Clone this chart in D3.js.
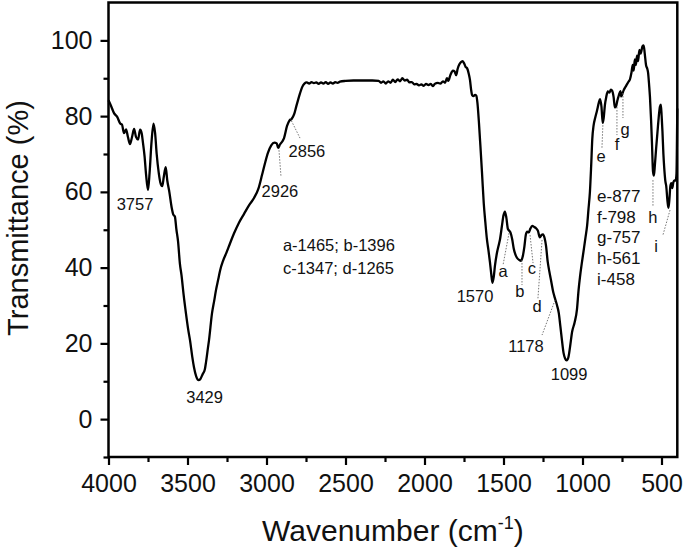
<!DOCTYPE html>
<html><head><meta charset="utf-8">
<script src="https://cdn.jsdelivr.net/npm/d3@7/dist/d3.min.js"></script>
<style>
body{margin:0;background:#fff;}
svg text{font-family:"Liberation Sans",Arial,sans-serif;fill:#111;}
</style></head>
<body><svg id="chart" width="685" height="549"></svg>
<script>
// Spectrum: wavenumber (cm-1) and transmittance (%)
const wavenumber = [4000,3985,3965,3945,3925,3915,3902,3889,3877,3864,3851,3838,3826,3813,3800,3790,3782,3772,3762,3750,3740,3728,3715,3705,3695,3682,3672,3660,3650,3638,3628,3615,3600,3590,3580,3570,3560,3548,3538,3525,3510,3495,3484,3470,3459,3445,3430,3420,3405,3390,3383,3370,3364,3345,3330,3320,3305,3294,3275,3256,3230,3206,3175,3142,3110,3079,3050,3028,3010,2991,2970,2950,2935,2926,2915,2900,2889,2870,2855,2840,2825,2812,2800,2788,2775,2760,2745,2730,2715,2700,2685,2670,2655,2640,2625,2610,2595,2580,2565,2550,2535,2500,2450,2400,2330,2290,2275,2260,2245,2230,2215,2200,2185,2170,2155,2140,2125,2110,2095,2080,2065,2050,2035,2020,2005,1990,1975,1960,1946,1935,1915,1900,1883,1870,1858,1850,1835,1820,1810,1800,1790,1780,1770,1760,1750,1740,1730,1720,1712,1705,1698,1690,1680,1672,1665,1655,1646,1636,1625,1615,1605,1595,1586,1578,1570,1562,1554,1541,1530,1522,1510,1500,1491,1482,1472,1465,1455,1445,1435,1425,1415,1400,1389,1378,1368,1358,1350,1340,1330,1318,1305,1294,1282,1270,1260,1250,1240,1231,1220,1210,1199,1185,1175,1161,1150,1140,1130,1120,1110,1100,1090,1079,1066,1050,1035,1025,1016,1005,991,981,971,962,953,945,938,930,920,908,897,889,880,872,866,858,850,840,830,820,812,803,795,788,780,770,760,755,750,740,724,710,699,690,682,676,669,662,655,648,640,632,620,613,606,598,590,585,578,573,566,560,554,548,542,534,526,518,510,504,499,494,488,483,476,470,462,456,450,444,438,432,425,418,410,405,402,400];
const transmittance = [84.2,82.8,80.8,79.8,78.0,77.8,75.5,76.5,74.5,72.6,74.5,76.6,74.5,73.8,76.4,75.5,73.0,69.5,64.5,60.5,65,73,78.0,75.5,70,65,62.5,61.5,64,66.5,63,60,55.8,54.0,53.5,50,47,41,38,33,28,23.5,20.8,16.5,13.7,11.3,10.3,10.5,11.8,13.2,15,19,20.8,27.9,31.5,34,37,39.2,41.8,43.7,46.5,49,51.8,54.2,56.5,58.4,61,64.5,67.5,70.3,72.3,73,72.8,71.6,72.5,73.3,74.2,77.4,78.8,79.3,80.5,82.5,84.3,86,87.6,88.6,88.9,88.6,89.0,88.7,88.9,88.5,88.9,88.6,89.0,88.5,88.9,88.6,89.0,88.8,89.1,89.3,89.4,89.4,89.4,89.3,88.8,89.2,88.6,89.2,88.8,89.6,89.0,89.7,89.2,90.0,89.4,89.6,88.9,89.0,88.4,88.5,88.1,88.4,88.0,88.5,88.2,88.5,87.9,88.5,88.8,88.6,89.2,88.8,90.0,89.3,91.0,92.0,91.8,90.8,92.5,93.6,94.2,94.5,94,93.0,92.6,91.2,89.5,87,85.5,85.3,85.6,85.4,83.5,78,72,65,57,52,47.5,44.5,41.5,38.5,36.0,37.5,40.5,44,46,47.5,51,53.8,54.8,53.2,50.2,49.8,49.2,47.5,45,43.5,42.6,42.0,41.8,43,45.5,48.8,49.5,49.3,50.3,51,50.7,50.4,49.7,48,48.6,48.8,47.8,45.8,41.5,39,36.6,33.5,32,30,28,24.5,20.8,17.5,16,15.5,16.2,19,23,25.5,29,34,37.5,41,45,48,51,55.5,60,67,74,77.5,79.5,81.5,83.5,84.5,82.5,78.2,79.5,83,85,86.5,86.2,87,86.7,85,82.3,82.5,84,85.5,86.6,85.2,85.6,86.8,88,89,89.8,91.5,93.5,92,95,93.5,96,94.5,97.5,96.5,98.5,98.7,96.5,93.5,92.5,91.5,88,85,79,72.5,65.5,64.3,67,71.5,75.5,79.5,82.5,83,80,76,70,66.5,63,61.5,57.5,55.8,58,61.5,62.3,61,62.5,63,63,65,74,82];

const xMajorTicks = [4000,3500,3000,2500,2000,1500,1000,500];
const xMinorTicks = [3750,3250,2750,2250,1750,1250,750];
const yMajorTicks = [0,20,40,60,80,100];
const yMinorTicks = [-10,10,30,50,70,90];

// peak labels: [text, wavenumber, transmittance] (anchor = text centre / baseline)
const peakLabels = [["3757",3832,55.2],["3429",3392,4.2],["2926",2915,58.6],["2856",2744,69.2],["1570",1680,30.9],["a",1503,37.5],["b",1396,32.2],["c",1320,38.3],["d",1288,28.3],["1178",1358,17.7],["1099",1085,10.3],["e",883,67.9],["f",782,71.0],["g",731,75.0],["h",554,51.7],["i",535,44.1]];
// leader lines: [w1,t1,w2,t2]
const leaders = [[2921,71.0,2908,63.9],[2851,79.5,2788,74.2],[1465,49.1,1503,40.7],[1383,42.0,1383,35.4],[1332,48.6,1313,41.2],[1256,47.3,1282,31.9],[1174,31.4,1256,22.2],[871,77.6,877,71.5],[782,82.4,782,75.0],[744,86.1,744,79.5],[554,63.1,554,56.0],[446,55.2,491,48.6]];
const blockLeft = ["a-1465; b-1396","c-1347; d-1265"];
const blockLeftT = [44.4,38.3];
const blockRight = ["e-877","f-798","g-757","h-561","i-458"];
const blockRightT = [57.3,51.7,46.5,40.9,35.4];

const svg = d3.select("#chart");
const L=108.5, R=677.3, T=2.5, B=457;
const x = d3.scaleLinear().domain([4000,400]).range([L,R]);
const y = d3.scaleLinear().domain([-10,110]).range([B,T]);

// minor ticks
svg.append("g").attr("transform",`translate(0,${B})`)
  .call(d3.axisBottom(x).tickValues(xMinorTicks).tickSize(5).tickSizeOuter(0).tickFormat(""))
  .call(g=>g.select(".domain").remove()).selectAll("line").attr("stroke-width",2.2);
svg.append("g").attr("transform",`translate(${L},0)`)
  .call(d3.axisLeft(y).tickValues(yMinorTicks).tickSize(5).tickSizeOuter(0).tickFormat(""))
  .call(g=>g.select(".domain").remove()).selectAll("line").attr("stroke-width",2.2);
// major ticks
const gx = svg.append("g").attr("transform",`translate(0,${B})`)
  .call(d3.axisBottom(x).tickValues(xMajorTicks).tickSize(8).tickSizeOuter(0).tickPadding(9).tickFormat(d3.format("d")));
gx.select(".domain").remove();
gx.selectAll("line").attr("stroke-width",2.2);
gx.selectAll("text").attr("font-size",25).attr("font-family","Liberation Sans, Arial, sans-serif").attr("fill","#111");
const gy = svg.append("g").attr("transform",`translate(${L},0)`)
  .call(d3.axisLeft(y).tickValues(yMajorTicks).tickSize(8).tickSizeOuter(0).tickPadding(8).tickFormat(d3.format("d")));
gy.select(".domain").remove();
gy.selectAll("line").attr("stroke-width",2.2);
gy.selectAll("text").attr("font-size",25).attr("font-family","Liberation Sans, Arial, sans-serif").attr("fill","#111");

// frame
svg.append("rect").attr("x",L).attr("y",T).attr("width",R-L).attr("height",B-T)
  .attr("fill","none").attr("stroke","#000").attr("stroke-width",2.5);

// spectrum
const pts = wavenumber.map((w,i)=>[w,transmittance[i]]);
svg.append("path").datum(pts)
  .attr("fill","none").attr("stroke","#000").attr("stroke-width",2.3).attr("stroke-linejoin","round")
  .attr("d",d3.line().x(d=>x(d[0])).y(d=>y(d[1])).curve(d3.curveMonotoneX));

// leaders
svg.append("g").selectAll("line").data(leaders).join("line")
  .attr("x1",d=>x(d[0])).attr("y1",d=>y(d[1])).attr("x2",d=>x(d[2])).attr("y2",d=>y(d[3]))
  .attr("stroke","#666").attr("stroke-width",0.9).attr("stroke-dasharray","1.5,1.5");

// peak labels
svg.append("g").selectAll("text").data(peakLabels).join("text")
  .attr("x",d=>x(d[1])).attr("y",d=>y(d[2])).attr("text-anchor","middle")
  .attr("font-size",16.5).text(d=>d[0]);

svg.append("g").selectAll("text").data(blockLeft).join("text")
  .attr("x",x(2896)).attr("y",(d,i)=>y(blockLeftT[i])).attr("font-size",16.5).text(d=>d);
svg.append("g").selectAll("text").data(blockRight).join("text")
  .attr("x",x(908)).attr("y",(d,i)=>y(blockRightT[i])).attr("font-size",17).text(d=>d);

// axis titles
const xt = svg.append("text").attr("x",(L+R)/2).attr("y",541).attr("text-anchor","middle").attr("font-size",30);
xt.append("tspan").text("Wavenumber (cm");
xt.append("tspan").attr("font-size",18).attr("dy",-12).text("-1");
xt.append("tspan").attr("dy",12).text(")");
svg.append("text").attr("transform","translate(28,218) rotate(-90)").attr("text-anchor","middle")
  .attr("font-size",29).text("Transmittance (%)");
</script></body></html>
